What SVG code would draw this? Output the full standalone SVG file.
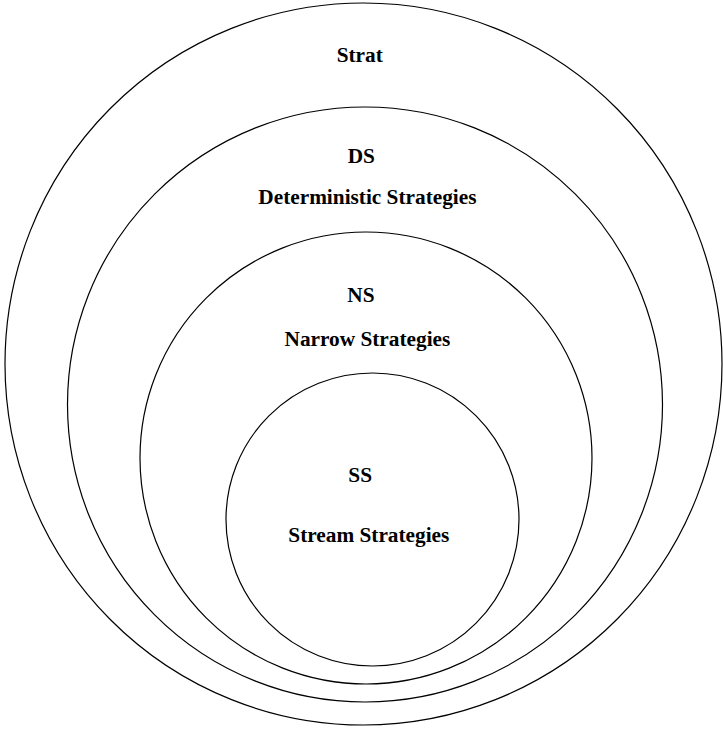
<svg xmlns="http://www.w3.org/2000/svg" width="723" height="729" viewBox="0 0 723 729">
<style>
.set{fill:none;stroke:#000;stroke-width:1.2}
.lbl{font-family:"Liberation Serif","Times New Roman",serif;font-weight:bold;font-size:21.3px;fill:#000}
</style>
<rect width="723" height="729" fill="#fff"/>
<g id="strat">
<ellipse class="set" cx="363.5" cy="364" rx="358.5" ry="361"/>
<text class="lbl" x="336.7" y="61.5">Strat</text>
</g>
<g id="ds">
<circle class="set" cx="365" cy="404.5" r="297.5"/>
<text class="lbl" x="347.7" y="163.3">DS</text>
<text class="lbl" x="258.3" y="203.5">Deterministic Strategies</text>
</g>
<g id="ns">
<circle class="set" cx="366" cy="458" r="226"/>
<text class="lbl" x="347.3" y="301.7">NS</text>
<text class="lbl" x="284.5" y="345.5">Narrow Strategies</text>
</g>
<g id="ss">
<circle class="set" cx="372.5" cy="519.5" r="146.5"/>
<text class="lbl" x="348.3" y="481.7">SS</text>
<text class="lbl" x="288.3" y="541.5">Stream Strategies</text>
</g>
<g id="connectors"></g>
</svg>
